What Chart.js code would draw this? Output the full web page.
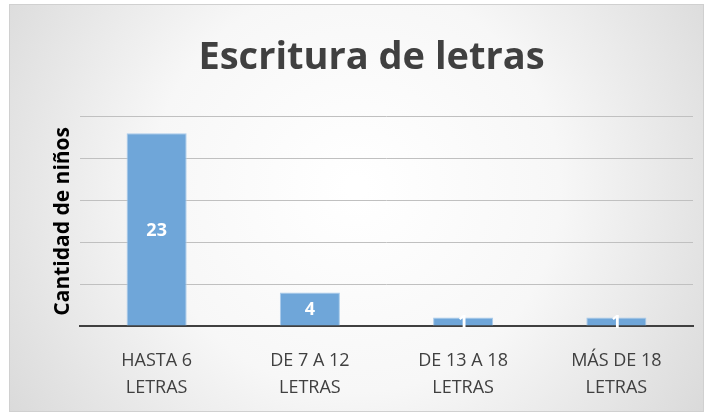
<!DOCTYPE html>
<html>
<head>
<meta charset="utf-8">
<script src="https://cdn.jsdelivr.net/npm/chart.js@4"></script>
<style>
  html, body { margin: 0; padding: 0; background: #fff; }
  #wrap { width: 712px; height: 417px; }
</style>
</head>
<body>
<div id="wrap"><canvas id="grafico"></canvas></div>
<script>
// Datos del gráfico
const categorias = [['HASTA 6', 'LETRAS'], ['DE 7 A 12', 'LETRAS'], ['DE 13 A 18', 'LETRAS'], ['MÁS DE 18', 'LETRAS']];
const cantidades = [23, 4, 1, 1];
const ejeMax = 25;
const ejePaso = 5;

// Fondo degradado y borde del gráfico
const fondo = {
    id: 'fondo',
    beforeDraw(chart) {
        const ctx = chart.ctx;
        const w = chart.width, h = chart.height;
        ctx.save();
        const g = ctx.createRadialGradient(w * 0.5, h * 0.45, 10, w * 0.5, h * 0.45, w * 0.62);
        g.addColorStop(0, '#ffffff');
        g.addColorStop(0.45, '#f7f7f7');
        g.addColorStop(1, '#d6d6d6');
        ctx.fillStyle = g;
        ctx.fillRect(9, 4, w - 17, h - 9);
        ctx.strokeStyle = '#d0d0d0';
        ctx.lineWidth = 1;
        ctx.strokeRect(9.5, 4.5, w - 18, h - 10);
        ctx.restore();
    }
};

// Etiquetas de valor dentro de las barras
const etiquetas = {
    id: 'etiquetas',
    afterDatasetsDraw(chart) {
        const ctx = chart.ctx;
        const meta = chart.getDatasetMeta(0);
        ctx.save();
        ctx.fillStyle = '#ffffff';
        ctx.font = 'bold 18px "Open Sans"';
        ctx.textAlign = 'center';
        ctx.textBaseline = 'middle';
        meta.data.forEach((bar, i) => {
            const y = (bar.y + bar.base) / 2;
            ctx.fillText(String(cantidades[i]), bar.x, y + 1);
        });
        ctx.restore();
    }
};

const ctxGrafico = document.getElementById('grafico').getContext('2d');

const grafico = new Chart(ctxGrafico, {
    type: 'bar',
    data: {
        labels: categorias,
        datasets: [{
            data: cantidades,
            backgroundColor: '#6fa6d9',
            borderColor: '#a9cbeb',
            borderWidth: 1,
            categoryPercentage: 0.8,
            barPercentage: 0.49
        }]
    },
    options: {
        responsive: true,
        maintainAspectRatio: false,
        animation: false,
        layout: {
            padding: { left: 50, right: 19, top: 0, bottom: 0 }
        },
        scales: {
            x: {
                grid: { display: false },
                border: { display: true, color: '#404040', width: 2 },
                ticks: {
                    color: '#404040',
                    font: { family: 'Open Sans', size: 18, lineHeight: 1.5 },
                    padding: 13,
                    maxRotation: 0
                },
                afterFit(scale) { scale.height = 91; }
            },
            y: {
                min: 0,
                max: ejeMax,
                ticks: { display: false, stepSize: ejePaso },
                grid: { color: '#c0c0c0', lineWidth: 1, drawTicks: false },
                border: { display: false },
                title: {
                    display: true,
                    text: 'Cantidad de niños',
                    color: '#000000',
                    font: { family: 'Open Sans', size: 21, weight: 'bold' },
                    padding: 0
                },
                afterFit(scale) { scale.width = 30; }
            }
        },
        plugins: {
            legend: { display: false },
            tooltip: { enabled: false },
            title: {
                display: true,
                text: 'Escritura de letras',
                color: '#404040',
                font: { family: 'Open Sans', size: 38, weight: 'bold' },
                padding: { top: 35, bottom: 36 }
            }
        }
    },
    plugins: [fondo, etiquetas]
});
</script>
</body>
</html>
